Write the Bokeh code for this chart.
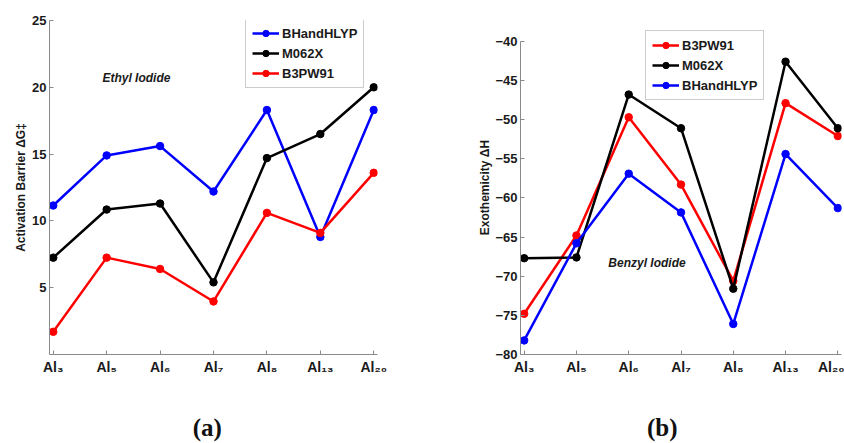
from bokeh.plotting import figure
from bokeh.layouts import row
from bokeh.models import Range1d, FixedTicker, Label
from bokeh.embed import file_html
from bokeh.resources import INLINE

# ---------------- data ----------------
categories = ["Al\u2083", "Al\u2085", "Al\u2086", "Al\u2087", "Al\u2088", "Al\u2081\u2083", "Al\u2082\u2080"]
xpos = [1, 2, 3, 4, 5, 6, 7]

# (a) Ethyl Iodide - activation barrier
ethyl_bhandhlyp = [11.15, 14.9, 15.6, 12.2, 18.3, 8.8, 18.3]
ethyl_m062x = [7.25, 10.85, 11.3, 5.4, 14.7, 16.5, 20.0]
ethyl_b3pw91 = [1.7, 7.25, 6.4, 3.97, 10.6, 9.1, 13.6]

# (b) Benzyl Iodide - exothermicity
benzyl_b3pw91 = [-74.8, -64.8, -49.7, -58.3, -70.6, -47.9, -52.1]
benzyl_m062x = [-67.7, -67.6, -46.8, -51.1, -71.6, -42.6, -51.1]
benzyl_bhandhlyp = [-78.2, -65.8, -56.9, -61.85, -76.1, -54.4, -61.3]

left_yticks = [5, 10, 15, 20, 25]
right_yticks = [-80, -75, -70, -65, -60, -55, -50, -45, -40]

FONT = "Liberation Sans"
AXIS_GRAY = "#8a8a8a"
TEXT_COL = "#1a1a1a"
NBSP = "\u00a0"


def style(p, yticks, panel_label, pad):
    p.xaxis.ticker = FixedTicker(ticks=xpos)
    p.xaxis.major_label_overrides = {x: c for x, c in zip(xpos, categories)}
    p.yaxis.ticker = FixedTicker(ticks=yticks)
    for ax in (p.xaxis[0], p.yaxis[0]):
        ax.axis_line_color = AXIS_GRAY
        ax.axis_line_width = 1
        ax.major_tick_line_color = AXIS_GRAY
        ax.major_tick_in = 4
        ax.major_tick_out = 0
        ax.minor_tick_line_color = None
        ax.major_label_text_font = FONT
        ax.major_label_text_font_style = "bold"
        ax.major_label_text_font_size = "13px"
        ax.major_label_text_color = TEXT_COL
        ax.axis_label_text_font = FONT
        ax.axis_label_text_font_style = "bold"
        ax.axis_label_text_font_size = "12px"
        ax.axis_label_text_color = TEXT_COL
    p.xaxis.major_label_text_font_size = "14px"
    p.xaxis.major_label_standoff = 4
    p.yaxis.major_label_standoff = 3
    # panel label "(a)" / "(b)" under the x axis
    xa = p.xaxis[0]
    xa.axis_label = panel_label + NBSP * pad
    xa.axis_label_standoff = 36
    xa.axis_label_text_font = "Liberation Serif"
    xa.axis_label_text_font_style = "bold"
    xa.axis_label_text_font_size = "25px"
    xa.axis_label_text_color = "#111111"
    p.xgrid.visible = False
    p.ygrid.visible = False
    p.outline_line_color = None
    p.background_fill_color = "white"
    p.border_fill_color = "white"


def series(p, ys, color, label):
    p.line(xpos, ys, line_color=color, line_width=2.5, legend_label=label)
    p.scatter(xpos, ys, marker="circle", size=7.5, fill_color=color,
              line_color=color, legend_label=label)


def style_legend(p, loc):
    lg = p.legend[0]
    lg.location = loc
    lg.border_line_color = "#999999"
    lg.border_line_width = 1
    lg.background_fill_alpha = 1.0
    lg.label_text_font = FONT
    lg.label_text_font_style = "bold"
    lg.label_text_font_size = "13px"
    lg.label_text_color = TEXT_COL
    lg.glyph_width = 27
    lg.glyph_height = 16
    lg.label_height = 16
    lg.label_standoff = 3
    lg.spacing = 4
    lg.padding = 6
    lg.margin = 0


# ---------------- (a) ----------------
p1 = figure(width=420, height=443, output_backend="svg", toolbar_location=None,
            x_range=Range1d(0.93, 7.07), y_range=Range1d(0, 25),
            min_border_left=49, min_border_right=43, min_border_top=20,
            min_border_bottom=89, y_axis_label="Activation Barrier \u0394G\u2021")
series(p1, ethyl_bhandhlyp, "#0000ff", "BHandHLYP")
series(p1, ethyl_m062x, "#000000", "M062X")
series(p1, ethyl_b3pw91, "#ff0000", "B3PW91")
style(p1, left_yticks, "(a)", 2)
style_legend(p1, (196, 266))
p1.yaxis.axis_label_standoff = 1
p1.add_layout(Label(x=1.92, y=20.66, text="Ethyl Iodide", text_font=FONT,
                    text_font_style="bold italic", text_font_size="12px",
                    text_color=TEXT_COL, text_baseline="middle", text_align="left"))

# ---------------- (b) ----------------
p2 = figure(width=424, height=443, output_backend="svg", toolbar_location=None,
            x_range=Range1d(0.93, 7.07), y_range=Range1d(-80, -37.34),
            min_border_left=100, min_border_right=3, min_border_top=20,
            min_border_bottom=89, y_axis_label="Exothemicity \u0394H")
series(p2, benzyl_b3pw91, "#ff0000", "B3PW91")
series(p2, benzyl_m062x, "#000000", "M062X")
series(p2, benzyl_bhandhlyp, "#0000ff", "BHandHLYP")
style(p2, right_yticks, "(b)", 6)
p2.yaxis.bounds = (-80, -40)
style_legend(p2, (125, 254))
p2.yaxis.axis_label_standoff = 0
p2.add_layout(Label(x=2.61, y=-68.35, text="Benzyl Iodide", text_font=FONT,
                    text_font_style="bold italic", text_font_size="12px",
                    text_color=TEXT_COL, text_baseline="middle", text_align="left"))

layout = row(p1, p2, spacing=0)
open("out.html", "w").write(file_html(layout, INLINE))
